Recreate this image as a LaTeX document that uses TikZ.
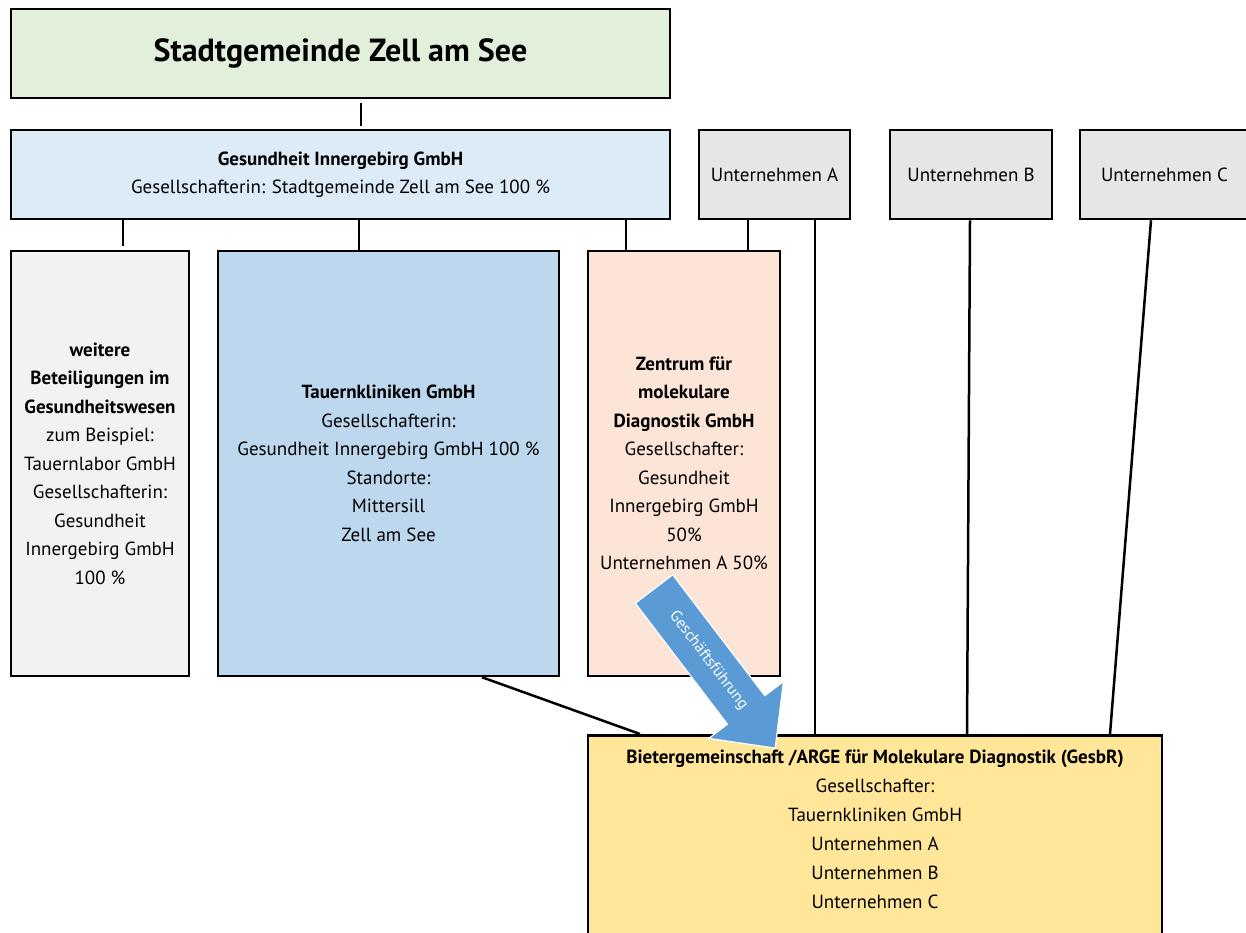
\documentclass[tikz,border=0pt]{standalone}
\usepackage{fontspec}
\setmainfont{PT Sans}
\usetikzlibrary{calc}
\definecolor{stadtgreen}{HTML}{E2EFDA}
\definecolor{gesundblue}{HTML}{DDEBF7}
\definecolor{untgray}{HTML}{E6E6E6}
\definecolor{weiteregray}{HTML}{F2F2F2}
\definecolor{tauernblue}{HTML}{BDD7EE}
\definecolor{zmdrose}{HTML}{FCE4D6}
\definecolor{argeyellow}{HTML}{FFE699}
\definecolor{gfblue}{HTML}{5B9BD5}

\begin{document}
\begin{tikzpicture}[x=1pt,y=-1pt,
    box/.style={draw=black, line width=2.5pt, align=center, inner sep=0pt,
      font=\fontsize{19}{28.5}\selectfont},
    link/.style={line width=2.5pt}]
    \useasboundingbox (0,0) rectangle (1246,932);
    \clip (0,0) rectangle (1246,932);

    % obere Ebene
    \node[box, fill=stadtgreen, minimum width=659pt, minimum height=89pt,
      font=\fontsize{32}{38}\selectfont\bfseries] (stadt) at (340.5,53.5) {Stadtgemeinde Zell am See};
    \node[box, fill=gesundblue, minimum width=659pt, minimum height=89pt] (gesund) at (340.5,174.5)
      {\textbf{Gesundheit Innergebirg GmbH}\\Gesellschafterin: Stadtgemeinde Zell am See 100 \%};
    \node[box, fill=untgray, minimum width=151pt, minimum height=89pt] (untA) at (774.5,174.5) {Unternehmen A};
    \node[box, fill=untgray, minimum width=162pt, minimum height=89pt] (untB) at (971,174.5) {Unternehmen B};
    \node[box, fill=untgray, minimum width=169pt, minimum height=89pt] (untC) at (1164.5,174.5) {Unternehmen C};

    % Beteiligungen
    \node[box, fill=weiteregray, minimum width=178pt, minimum height=425pt] (weitere) at (100,463.5)
      {\textbf{weitere}\\\textbf{Beteiligungen im}\\\textbf{Gesundheitswesen}\\zum Beispiel:\\Tauernlabor GmbH\\
       Gesellschafterin:\\Gesundheit\\Innergebirg GmbH\\100 \%};
    \node[box, fill=tauernblue, minimum width=341pt, minimum height=425pt] (tauern) at (388.5,463.5)
      {\textbf{Tauernkliniken GmbH}\\Gesellschafterin:\\Gesundheit Innergebirg GmbH 100 \%\\Standorte:\\Mittersill\\Zell am See};
    \node[box, fill=zmdrose, minimum width=192pt, minimum height=425pt] (zmd) at (684,463.5)
      {\textbf{Zentrum für}\\\textbf{molekulare}\\\textbf{Diagnostik GmbH}\\Gesellschafter:\\Gesundheit\\Innergebirg GmbH\\50\%\\Unternehmen A 50\%};

    % ARGE
    \node[box, fill=argeyellow, minimum width=574pt, minimum height=240pt, anchor=north] (arge) at (875,734) {};
    \node[align=center, anchor=north, inner sep=0pt, font=\fontsize{19}{29}\selectfont] (argetext) at ($(arge.north)+(0,16)$)
      {\textbf{Bietergemeinschaft /ARGE für Molekulare Diagnostik (GesbR)}\\Gesellschafter:\\Tauernkliniken GmbH\\
       Unternehmen A\\Unternehmen B\\Unternehmen C};

    % Verbindungen
    \draw[link, shorten <=4pt, shorten >=3pt] ($(stadt.south)+(20.5,0)$) -- ($(gesund.north)+(20.5,0)$);
    \coordinate (w) at ($(weitere.north)+(23,0)$);
    \draw[link, shorten >=4pt] (w |- gesund.south) -- (w);
    \coordinate (t) at ($(tauern.north)+(-29.5,0)$);
    \draw[link] (t |- gesund.south) -- (t);
    \coordinate (z) at ($(zmd.north)+(-58,0)$);
    \draw[link] (z |- gesund.south) -- (z);
    \coordinate (za) at ($(zmd.north)+(64,0)$);
    \draw[link] (za |- untA.south) -- (za);
    \coordinate (aa) at ($(arge.north)+(-60,0)$);
    \draw[link] (aa |- untA.south) -- (aa);
    \draw[link] ($(untB.south)+(-1,0)$) -- ($(arge.north)+(92,0)$);
    \draw[link] ($(untC.south)+(-13.5,0)$) -- ($(arge.north)+(235,0)$);
    \draw[link] ($(tauern.south)+(93.5,0)$) -- ($(arge.north)+(-235,0)$);

    % Geschaeftsfuehrung
    \begin{scope}[shift={(654,589)}, rotate=-52.7]
      \fill[gfblue, draw=white, line width=1.2pt] (0,-23.5) -- (152,-23.5) -- (152,-47) -- (200,0)
        -- (152,47) -- (152,23.5) -- (0,23.5) -- cycle;
      \node[transform shape, text=white, font=\fontsize{16}{18}\selectfont] (gf) at (90,0) {Geschäftsführung};
    \end{scope}
\end{tikzpicture}
\end{document}
